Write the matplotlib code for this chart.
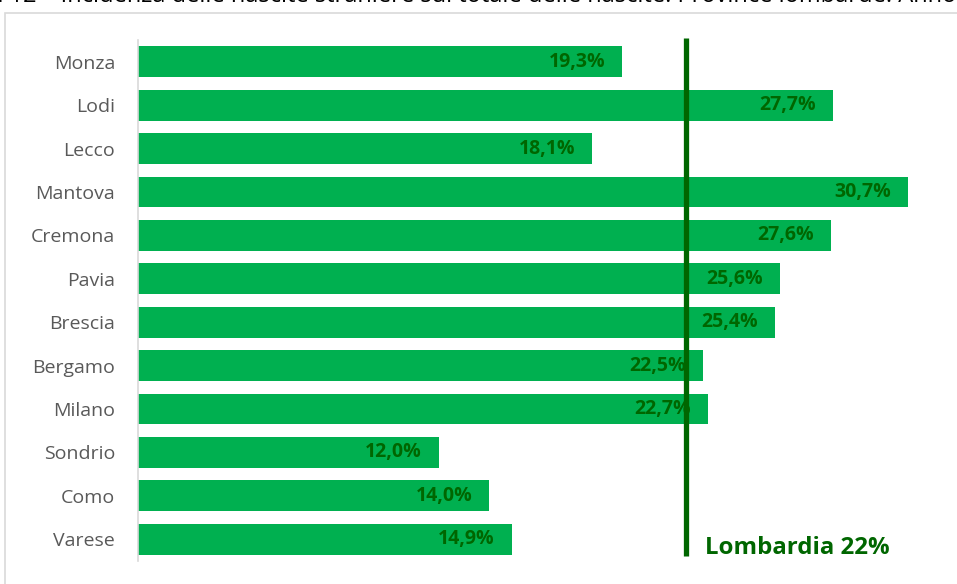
import matplotlib
matplotlib.use("Agg")
import matplotlib.pyplot as plt
from matplotlib.patches import Rectangle

provinces = ["Monza", "Lodi", "Lecco", "Mantova", "Cremona", "Pavia", "Brescia",
             "Bergamo", "Milano", "Sondrio", "Como", "Varese"]
values = [19.3, 27.7, 18.1, 30.7, 27.6, 25.6, 25.4, 22.5, 22.7, 12.0, 14.0, 14.9]
lombardia = 21.85
lombardia_label = "Lombardia 22%"
title = "Figura 12 – Incidenza delle nascite straniere sul totale delle nascite. Province lombarde. Anno 2019"

plt.rcParams['font.family'] = ['Open Sans', 'DejaVu Sans']

W, H = 957, 584
fig = plt.figure(figsize=(W / 100, H / 100), dpi=100)

# outer chart frame
fig.patches.append(Rectangle((5 / W, -0.1), 1.2, (H - 13) / H + 0.1, transform=fig.transFigure,
                             fill=False, edgecolor="#D9D9D9", linewidth=1.2))
fig.text(-0.068, 1.006, title, fontsize=17.0, color="#000000", ha="left", va="center")

left, right = 138, 941
top, bottom = 40, 561
ax = fig.add_axes([left / W, 1 - bottom / H, (right - left) / W, (bottom - top) / H])

ypos = list(range(len(provinces)))
ax.barh(ypos, values, height=0.71, color="#00B050", zorder=2)
ax.set_ylim(len(provinces) - 0.5, -0.5)
ax.set_xlim(0, 32)
ax.set_yticks(ypos)
ax.set_yticklabels(provinces, fontsize=14, color="#595959")
ax.tick_params(axis="y", length=0, pad=16.5)
ax.set_xticks([])
for s in ["top", "right", "bottom"]:
    ax.spines[s].set_visible(False)
ax.spines["left"].set_color("#D9D9D9")
ax.spines["left"].set_linewidth(1.2)

for y, v in zip(ypos, values):
    ax.text(v - 0.68, y, f"{v:.1f}%".replace(".", ","), ha="right", va="center",
            fontsize=14, fontweight="bold", color="#006600", zorder=3)

ax.plot([lombardia, lombardia], [-0.55, 11.38], color="#006600", linewidth=3.8,
        zorder=4, clip_on=False, solid_capstyle="butt")
ax.text(lombardia + 0.75, 11.2, lombardia_label, ha="left", va="center",
        fontsize=17.3, fontweight="bold", color="#006600")

fig.savefig("out.png", dpi=100)
